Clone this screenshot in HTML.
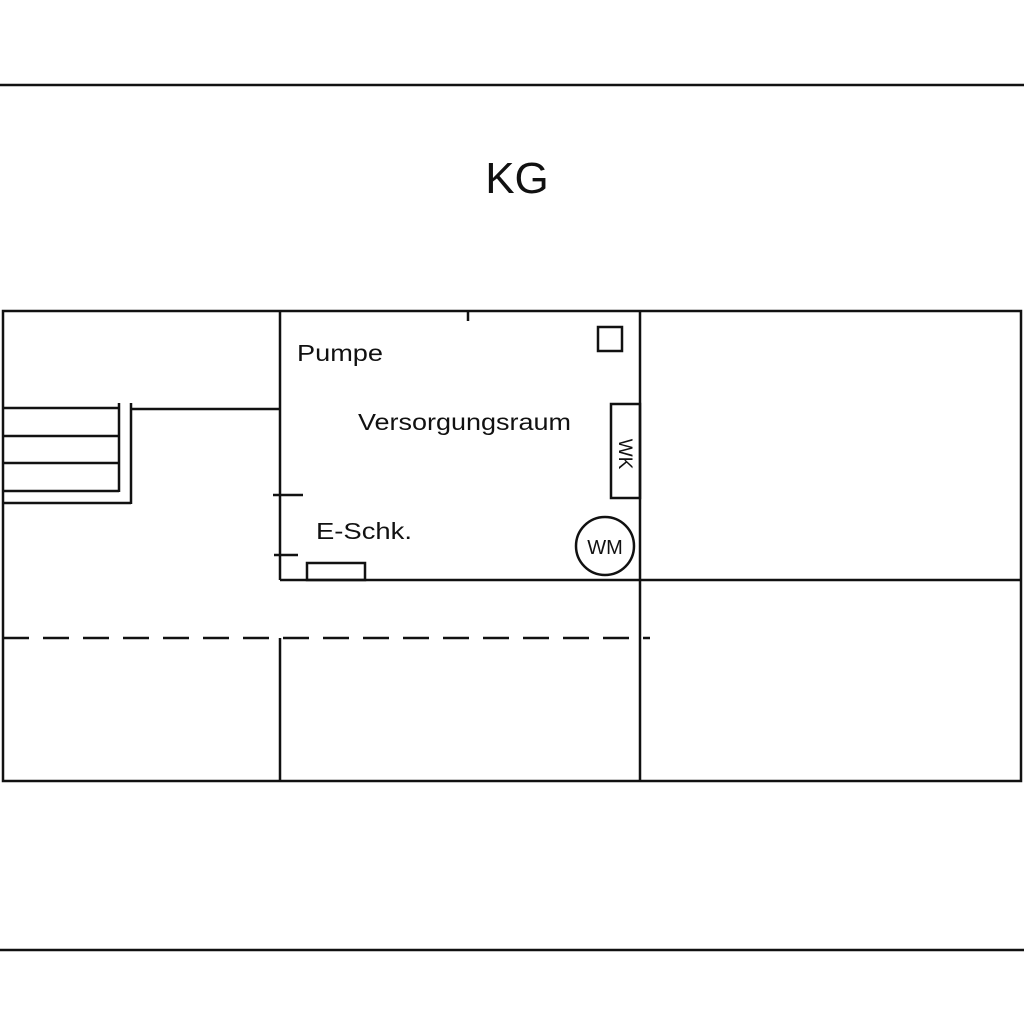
<!DOCTYPE html>
<html><head><meta charset="utf-8"><style>html,body{margin:0;padding:0;background:#fff}svg{display:block}</style></head>
<body>
<svg width="1024" height="1024" viewBox="0 0 1024 1024" xmlns="http://www.w3.org/2000/svg">
<g stroke="#111" stroke-width="2.5" fill="none">
<line x1="0" y1="85" x2="1024" y2="85"/>
<line x1="0" y1="950" x2="1024" y2="950"/>
<rect x="3" y="311" width="1018" height="470"/>
<line x1="280" y1="311" x2="280" y2="580"/>
<line x1="280" y1="580" x2="1021" y2="580"/>
<line x1="640" y1="311" x2="640" y2="781"/>
<line x1="280" y1="638" x2="280" y2="781"/>
<line x1="468" y1="311" x2="468" y2="321"/>
<rect x="598" y="327" width="24" height="24"/>
<rect x="611" y="404" width="29" height="94"/>
<circle cx="605" cy="546" r="29"/>
<rect x="307" y="563" width="58" height="17"/>
<line x1="273" y1="495" x2="303" y2="495"/>
<line x1="274" y1="555" x2="298" y2="555"/>
<line x1="3" y1="638" x2="650" y2="638" stroke-dasharray="26,14"/>
<line x1="3" y1="408" x2="119" y2="408"/>
<line x1="3" y1="436" x2="119" y2="436"/>
<line x1="3" y1="463" x2="119" y2="463"/>
<line x1="3" y1="491" x2="119" y2="491"/>
<line x1="119" y1="403" x2="119" y2="492"/>
<line x1="3" y1="503" x2="131" y2="503"/>
<line x1="131" y1="403" x2="131" y2="504"/>
<line x1="131" y1="409" x2="280" y2="409"/>
</g>
<g font-family="Liberation Sans, sans-serif" fill="#111">
<text x="517" y="193" font-size="44" text-anchor="middle">KG</text>
<text x="297" y="361" font-size="23" textLength="86" lengthAdjust="spacingAndGlyphs">Pumpe</text>
<text x="358" y="430" font-size="23" textLength="213" lengthAdjust="spacingAndGlyphs">Versorgungsraum</text>
<text x="316" y="539" font-size="23" textLength="96" lengthAdjust="spacingAndGlyphs">E-Schk.</text>
<text x="605" y="554" font-size="20" text-anchor="middle">WM</text>
<text transform="translate(619,454) rotate(90)" font-size="19" text-anchor="middle">WK</text>
</g>
</svg>
</body></html>
